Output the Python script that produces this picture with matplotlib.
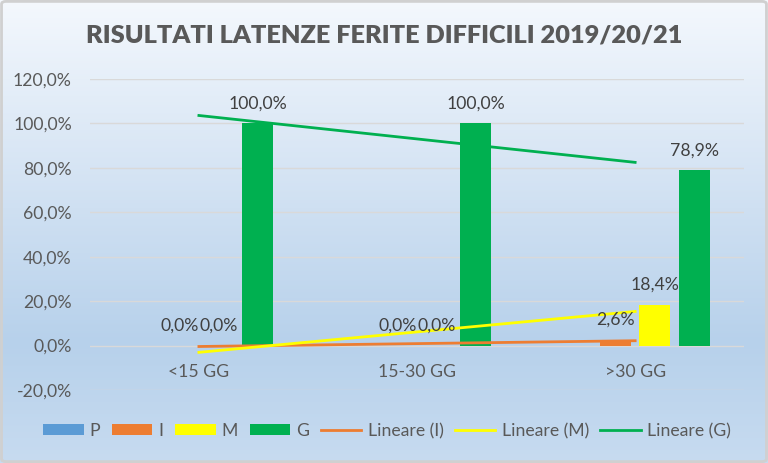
import numpy as np
import matplotlib.pyplot as plt
from matplotlib.colors import LinearSegmentedColormap
from matplotlib.patches import FancyBboxPatch

# dati del grafico
categorie = ['<15 GG', '15-30 GG', '>30 GG']
serie = ['P', 'I', 'M', 'G']
valori_p = [0.0, 0.0, 0.0]
valori_i = [0.0, 0.0, 2.6]
valori_m = [0.0, 0.0, 18.4]
valori_g = [100.0, 100.0, 78.9]
colori = ['#5B9BD5', '#ED7D31', '#FFFF00', '#00B050']
con_etichette = [False, True, True, True]   # P senza etichette dati
tendenze = ['I', 'M', 'G']                  # serie con linea di tendenza lineare
tick_y = [-20, 0, 20, 40, 60, 80, 100, 120]
titolo = 'RISULTATI LATENZE FERITE DIFFICILI 2019/20/21'

plt.rcParams['font.family'] = ['Lato', 'DejaVu Sans']
GRIGIO = '#595959'
FS = 12.7

fig = plt.figure(figsize=(7.68, 4.63), dpi=100)

# sfondo sfumato stile Excel
bg = fig.add_axes([0, 0, 1, 1], zorder=-10)
cmap = LinearSegmentedColormap.from_list('sfondo', [(0.0, '#f4f8fd'), (0.45, '#cfe0f2'),
                                                   (0.74, '#b7d1eb'), (1.0, '#c7dbf0')])
bg.imshow(np.linspace(0, 1, 256).reshape(-1, 1), aspect='auto', cmap=cmap, extent=[0, 1, 0, 1])
bg.axis('off')
fig.patches.append(FancyBboxPatch((0.002, 0.003), 0.996, 0.994,
                                  boxstyle='round,pad=0,rounding_size=0.006',
                                  transform=fig.transFigure, fill=False,
                                  ec='#d0d0d0', lw=2))

ax = fig.add_axes([0.117, 0.1577, 0.852, 0.672])
ax.set_facecolor('none')

x = np.arange(len(categorie))
valori = [valori_p, valori_i, valori_m, valori_g]
passo = 0.18
larghezza = 0.142
for k, (nome, v, c) in enumerate(zip(serie, valori, colori)):
    pos = x + (k - 1.5) * passo
    ax.bar(pos, v, larghezza, color=c, label=nome, zorder=3)
    if con_etichette[k]:
        for xi, vi in zip(pos, v):
            ax.annotate(f'{vi:.1f}%'.replace('.', ','), xy=(xi, vi), xytext=(0, 14.4),
                        textcoords='offset points', ha='center', va='center',
                        fontsize=FS, color='#404040', zorder=5)

# linee di tendenza lineari
for nome in tendenze:
    k = serie.index(nome)
    coef = np.polyfit(x, valori[k], 1)
    ax.plot(x, np.polyval(coef, x), color=colori[k], lw=2, zorder=4,
            label=f'Lineare ({nome})')

ax.set_xlim(-0.5, 2.5)
ax.set_ylim(-20, 120)
ax.set_yticks(tick_y)
ax.set_yticklabels([f'{t:.1f}%'.replace('.', ',') for t in tick_y])
ax.set_xticks(x)
ax.set_xticklabels(categorie)
ax.spines['bottom'].set_position(('data', 0))
for s in ax.spines.values():
    s.set_visible(False)
ax.tick_params(axis='both', length=0, labelsize=FS, labelcolor=GRIGIO)
ax.tick_params(axis='x', pad=13.5)
ax.tick_params(axis='y', pad=13)
ax.grid(axis='y', color='#d9d9d9', lw=1, zorder=0)
ax.set_axisbelow(True)

fig.text(0.5, 1 - 36 / 463, titolo, ha='center', va='center', fontsize=18.3,
         fontweight='heavy', color=GRIGIO)

h, l = ax.get_legend_handles_labels()
ordine = [l.index(n) for n in serie + [f'Lineare ({t})' for t in tendenze]]
fig.legend([h[i] for i in ordine], [l[i] for i in ordine], loc='center',
           bbox_to_anchor=(387 / 768, 1 - 431 / 463), ncol=7, frameon=False,
           fontsize=FS, labelcolor=GRIGIO, handlelength=2.3, handleheight=0.6,
           handletextpad=0.35, columnspacing=0.65)

fig.savefig('out.png', dpi=100)
